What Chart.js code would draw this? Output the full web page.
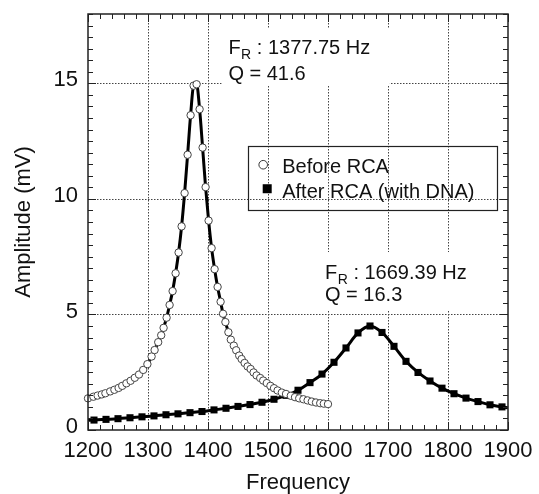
<!DOCTYPE html>
<html>
<head>
<meta charset="utf-8">
<script src="https://cdn.jsdelivr.net/npm/chart.js@4.4.0/dist/chart.umd.min.js"></script>
<style>
  html, body { margin: 0; padding: 0; background: #fff; }
  canvas { display: block; }
</style>
</head>
<body>
<canvas id="resonanceChart" width="539" height="494"></canvas>
<script>
// Before RCA (open circles) - frequency (Hz) and amplitude (mV)
const beforeFreq = [1200, 1209, 1216, 1223, 1229, 1237, 1244, 1251, 1257, 1264, 1271, 1278, 1285, 1292, 1299,
    1306, 1311, 1317, 1322, 1326, 1331, 1336, 1341, 1346, 1351, 1356, 1361, 1366, 1371, 1376, 1381, 1386,
    1391, 1396, 1401, 1406, 1411, 1416, 1421, 1425, 1429, 1434, 1438, 1443, 1447, 1452, 1456, 1461, 1466,
    1471, 1476, 1481, 1487, 1492, 1498, 1504, 1510, 1516, 1523, 1530, 1538, 1545, 1552, 1559, 1566, 1573,
    1580, 1587, 1593, 1600];
const beforeAmp = [1.37, 1.44, 1.49, 1.54, 1.59, 1.67, 1.74, 1.82, 1.91, 2.02, 2.13, 2.26, 2.40, 2.60, 2.85,
    3.18, 3.46, 3.80, 4.10, 4.42, 4.86, 5.41, 6.01, 6.78, 7.68, 8.81, 10.25, 11.91, 13.62, 14.90, 14.96, 13.88,
    12.22, 10.51, 9.06, 7.87, 6.96, 6.19, 5.55, 5.03, 4.67, 4.23, 3.91, 3.65, 3.45, 3.22, 3.07, 2.90, 2.75,
    2.64, 2.49, 2.36, 2.25, 2.14, 2.03, 1.91, 1.81, 1.71, 1.62, 1.56, 1.48, 1.42, 1.37, 1.33, 1.28, 1.23,
    1.19, 1.16, 1.14, 1.12];

// After RCA (with DNA) - filled squares; first and last entries are only the ends of the fitted line
const afterFreq = [1200, 1210, 1230, 1250, 1270, 1290, 1310, 1330, 1350, 1370, 1390, 1410, 1430, 1450, 1470,
    1490, 1510, 1530, 1550, 1570, 1590, 1610, 1630, 1650, 1670, 1690, 1710, 1730, 1750, 1770, 1790, 1810,
    1830, 1850, 1870, 1890, 1900];
const afterAmp = [0.42, 0.43, 0.46, 0.49, 0.53, 0.57, 0.61, 0.66, 0.70, 0.75, 0.80, 0.87, 0.94, 1.02, 1.10,
    1.20, 1.33, 1.50, 1.72, 2.05, 2.42, 2.93, 3.55, 4.20, 4.50, 4.22, 3.62, 2.97, 2.49, 2.12, 1.81, 1.57,
    1.38, 1.23, 1.09, 1.00, 0.96];

const seriesNames = ['Before RCA', 'After RCA (with DNA)'];
const freqTicks = [1200, 1300, 1400, 1500, 1600, 1700, 1800, 1900];
const ampTicks = [0, 5, 10, 15];

// resonance notes: text, anchor (freq, amp) of each line, white backing box [x1, y1, x2, y2]
const resonanceNotes = [
    { fr: '1377.75 Hz', q: 'Q = 41.6', frAt: [1434, 16.27], qAt: [1434, 15.13], box: [1423, 17.39, 1703, 14.91] },
    { fr: '1669.39 Hz', q: 'Q = 16.3', frAt: [1595, 6.52], qAt: [1595, 5.57], box: [1587, 7.70, 1845, 5.17] }
];

const FONT = '"Liberation Sans", Arial, Helvetica, sans-serif';
const INK = '#111';

const ctx = document.getElementById('resonanceChart').getContext('2d');

const toPoints = (xs, ys) => xs.map((x, i) => ({ x: x, y: ys[i] }));

// fixed axis boxes, no extra label padding from the layout
const fixBox = (s, w, h) => {
    if (w) s.width = w;
    if (h) s.height = h;
    s.paddingTop = 0; s.paddingBottom = 0; s.paddingLeft = 0; s.paddingRight = 0;
};

// grid, frame, inward ticks, notes and legend
const plotDecor = {
    id: 'plotDecor',
    beforeDatasetsDraw(chart) {
        const { ctx, chartArea: a, scales: { x, y } } = chart;
        ctx.save();
        ctx.strokeStyle = '#444';
        ctx.lineWidth = 1;
        ctx.setLineDash([1.5, 1.5]);
        freqTicks.slice(1, -1).forEach(f => {
            const px = Math.round(x.getPixelForValue(f)) + 0.5;
            ctx.beginPath(); ctx.moveTo(px, a.top); ctx.lineTo(px, a.bottom); ctx.stroke();
        });
        ampTicks.slice(1).forEach(v => {
            const py = Math.round(y.getPixelForValue(v)) + 0.5;
            ctx.beginPath(); ctx.moveTo(a.left, py); ctx.lineTo(a.right, py); ctx.stroke();
        });
        ctx.setLineDash([]);

        // notes with white backing
        resonanceNotes.forEach(n => {
            const bx1 = x.getPixelForValue(n.box[0]), by1 = y.getPixelForValue(n.box[1]);
            const bx2 = x.getPixelForValue(n.box[2]), by2 = y.getPixelForValue(n.box[3]);
            ctx.fillStyle = '#fff';
            ctx.fillRect(bx1, by1, bx2 - bx1, by2 - by1);

            ctx.fillStyle = INK;
            ctx.textBaseline = 'alphabetic';
            ctx.textAlign = 'left';
            let tx = x.getPixelForValue(n.frAt[0]);
            const ty = y.getPixelForValue(n.frAt[1]);
            ctx.font = '20px ' + FONT;
            ctx.fillText('F', tx, ty);
            tx += ctx.measureText('F').width + 0.5;
            ctx.font = '14px ' + FONT;
            ctx.fillText('R', tx, ty + 5);
            tx += ctx.measureText('R').width;
            ctx.font = '20px ' + FONT;
            ctx.fillText(' : ' + n.fr, tx, ty);
            ctx.fillText(n.q, x.getPixelForValue(n.qAt[0]), y.getPixelForValue(n.qAt[1]));
        });
        ctx.restore();
    },
    afterDatasetsDraw(chart) {
        const { ctx, chartArea: a, scales: { x, y } } = chart;
        ctx.save();
        ctx.strokeStyle = '#222';
        ctx.lineWidth = 1;
        // minor / major ticks pointing inward on all four sides
        for (let f = x.min; f <= x.max; f += 20) {
            const px = Math.round(x.getPixelForValue(f)) + 0.5;
            const len = f % 100 === 0 ? 8 : 5;
            ctx.beginPath();
            ctx.moveTo(px, a.bottom); ctx.lineTo(px, a.bottom - len);
            ctx.moveTo(px, a.top); ctx.lineTo(px, a.top + len);
            ctx.stroke();
        }
        for (let v = y.min; v <= y.max; v += 0.5) {
            const py = Math.round(y.getPixelForValue(v)) + 0.5;
            const len = v % 5 === 0 ? 8 : 5;
            ctx.beginPath();
            ctx.moveTo(a.left, py); ctx.lineTo(a.left + len, py);
            ctx.moveTo(a.right, py); ctx.lineTo(a.right - len, py);
            ctx.stroke();
        }
        ctx.lineWidth = 1.5;
        ctx.strokeRect(a.left, a.top, a.right - a.left, a.bottom - a.top);

        // legend box (no fill, grid shows through)
        const lx = x.getPixelForValue(1467), ly = y.getPixelForValue(12.3);
        ctx.lineWidth = 1.2;
        ctx.strokeRect(Math.round(lx) + 0.5, Math.round(ly) + 0.5, 249, 64);
        ctx.font = '20px ' + FONT;
        ctx.fillStyle = INK;
        ctx.textBaseline = 'alphabetic';
        ctx.fillText(seriesNames[0], lx + 34, ly + 27);
        ctx.fillText(seriesNames[1], lx + 34, ly + 52);
        ctx.beginPath();
        ctx.arc(lx + 15, ly + 19, 4.3, 0, Math.PI * 2);
        ctx.fillStyle = '#fff';
        ctx.fill();
        ctx.lineWidth = 1;
        ctx.strokeStyle = '#333';
        ctx.stroke();
        ctx.fillStyle = '#000';
        ctx.fillRect(lx + 14.5, ly + 38.5, 9, 9);
        ctx.restore();
    }
};

const lastAfter = afterFreq.length - 1;

new Chart(ctx, {
    type: 'line',
    data: {
        datasets: [
            {
                label: seriesNames[0],
                data: toPoints(beforeFreq, beforeAmp),
                borderColor: '#000',
                borderWidth: 3,
                cubicInterpolationMode: 'monotone',
                pointStyle: 'circle',
                pointRadius: 3.7,
                pointBackgroundColor: '#fff',
                pointBorderColor: '#444',
                pointBorderWidth: 1,
                clip: false,
                order: 1
            },
            {
                label: seriesNames[1],
                data: toPoints(afterFreq, afterAmp),
                borderColor: '#000',
                borderWidth: 3,
                cubicInterpolationMode: 'monotone',
                pointStyle: 'rect',
                pointRadius: c => (c.dataIndex === 0 || c.dataIndex === lastAfter) ? 0 : 5,
                pointBackgroundColor: '#000',
                pointBorderColor: '#000',
                pointBorderWidth: 0,
                clip: false,
                order: 2
            }
        ]
    },
    options: {
        responsive: false,
        animation: false,
        events: [],
        layout: { padding: { top: 14, right: 31, left: 0, bottom: 0 } },
        plugins: {
            legend: { display: false },
            tooltip: { enabled: false }
        },
        scales: {
            x: {
                type: 'linear',
                min: 1200,
                max: 1900,
                afterFit: s => fixBox(s, 0, 64),
                afterBuildTicks: s => { s.ticks = freqTicks.map(v => ({ value: v })); },
                grid: { display: false, drawTicks: false },
                border: { display: false },
                ticks: {
                    autoSkip: false,
                    maxRotation: 0,
                    padding: 8,
                    color: INK,
                    font: { family: FONT, size: 22 },
                    callback: v => String(v)
                },
                title: {
                    display: true,
                    text: 'Frequency',
                    color: INK,
                    font: { family: FONT, size: 22, lineHeight: 1 },
                    padding: 0
                }
            },
            y: {
                min: 0,
                max: 18,
                afterFit: s => fixBox(s, 88, 0),
                afterBuildTicks: s => { s.ticks = ampTicks.map(v => ({ value: v })); },
                grid: { display: false, drawTicks: false },
                border: { display: false },
                ticks: {
                    padding: 10,
                    labelOffset: -3,
                    color: INK,
                    font: { family: FONT, size: 22 },
                    callback: v => String(v)
                },
                title: {
                    display: true,
                    text: 'Amplitude (mV)',
                    color: INK,
                    font: { family: FONT, size: 22, lineHeight: 1 },
                    padding: { top: 13, bottom: 0 }
                }
            }
        }
    },
    plugins: [plotDecor]
});
</script>
</body>
</html>
